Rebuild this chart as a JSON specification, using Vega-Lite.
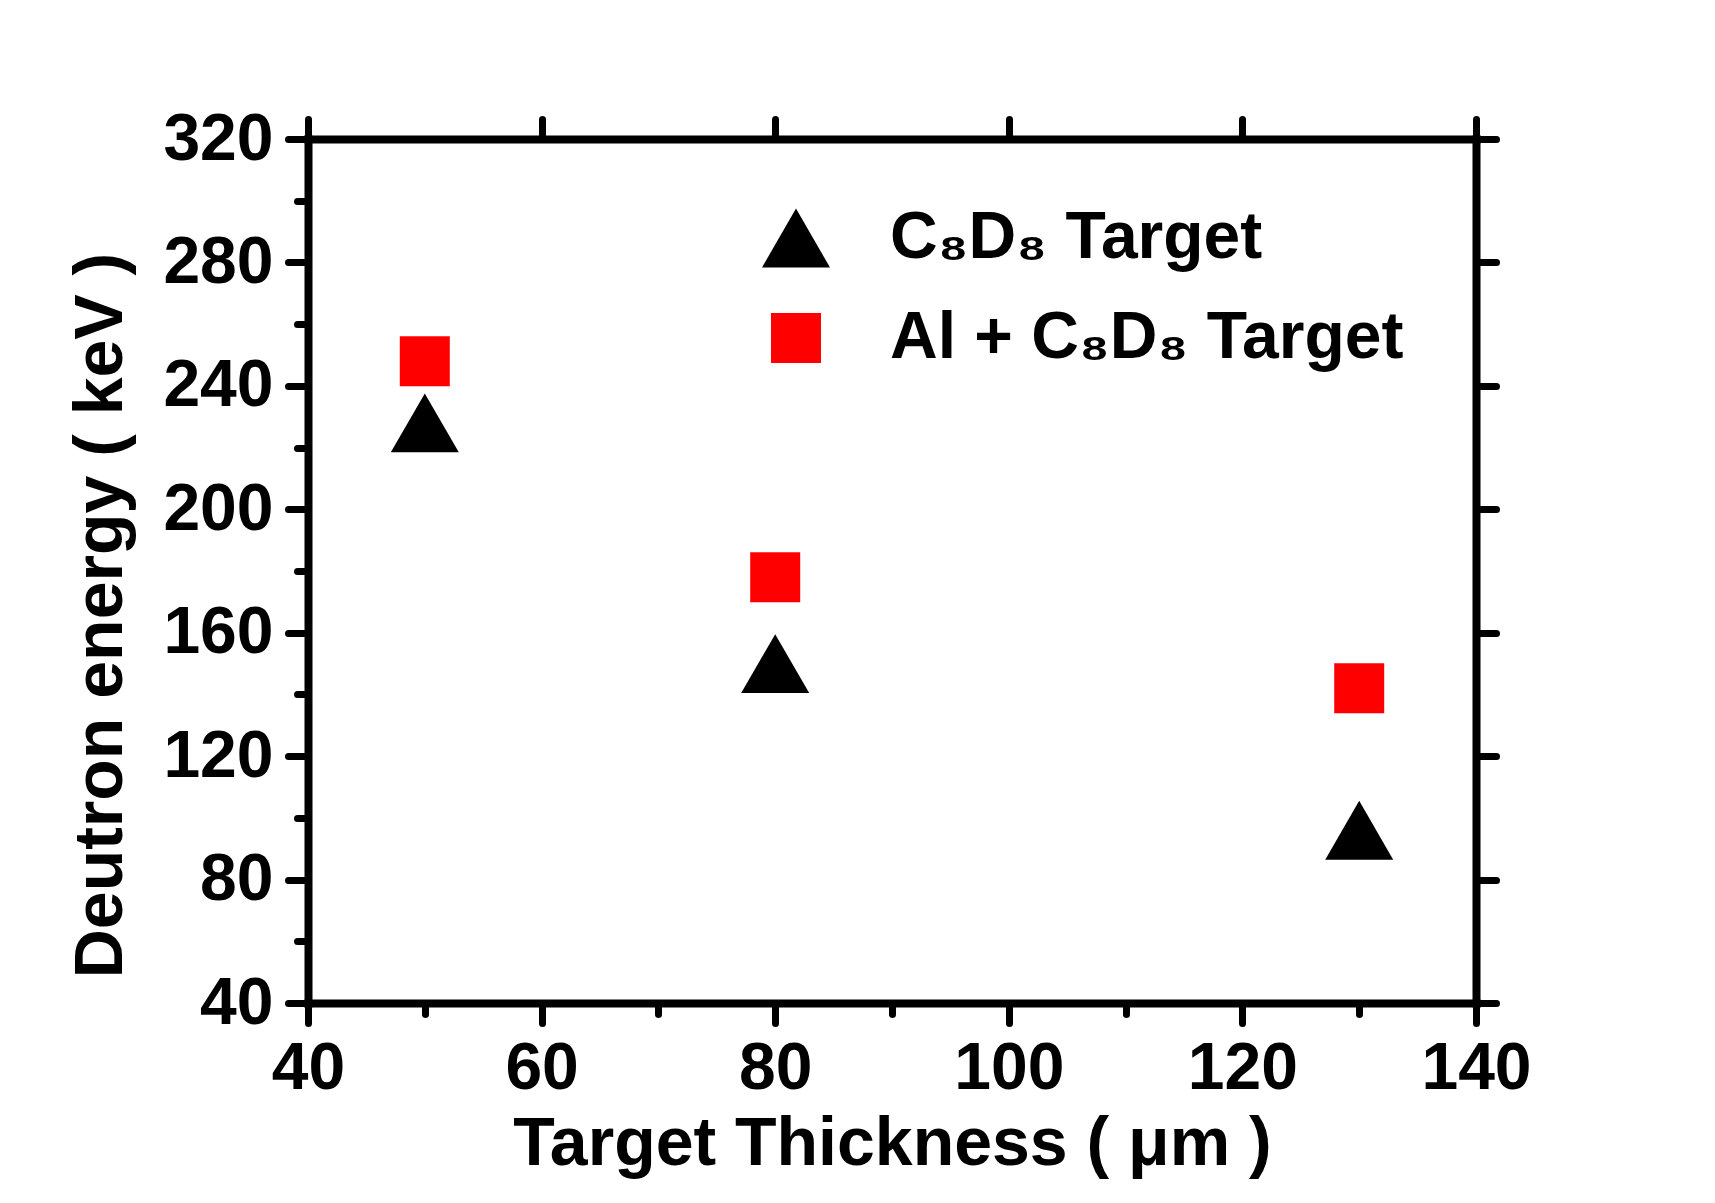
{
  "$schema": "https://vega.github.io/schema/vega-lite/v6.json",
  "width": 1168,
  "height": 864,
  "autosize": {"type": "none"},
  "padding": {"left": 308, "top": 139, "right": 239, "bottom": 200},
  "background": "white",
  "config": {
    "view": {"stroke": null},
    "font": "Liberation Sans",
    "axis": {
      "grid": false,
      "domainColor": "black",
      "tickColor": "black",
      "domainWidth": 8,
      "tickWidth": 7,
      "domainCap": "square",
      "tickCap": "round",
      "labelColor": "black",
      "titleColor": "black",
      "labelFont": "Liberation Sans",
      "titleFont": "Liberation Sans",
      "labelFontWeight": "bold",
      "titleFontWeight": "bold",
      "labelFontSize": 66,
      "titleFontSize": 68,
      "labelFlush": false,
      "labelOverlap": false,
      "labelBound": false
    },
    "legend": {
      "orient": "none",
      "legendX": 454,
      "legendY": 65,
      "padding": 0,
      "labelFont": "Liberation Sans",
      "labelFontWeight": "bold",
      "labelFontSize": 66,
      "labelColor": "black",
      "labelLimit": 2000,
      "labelOffset": 60,
      "rowPadding": 34,
      "symbolSize": 1100,
      "symbolStrokeWidth": 0
    }
  },
  "data": {
    "values": [
      {"thickness": 50, "energy": 228, "target": "C₈D₈ Target"},
      {"thickness": 80, "energy": 150, "target": "C₈D₈ Target"},
      {"thickness": 130, "energy": 96, "target": "C₈D₈ Target"},
      {"thickness": 50, "energy": 248, "target": "Al + C₈D₈ Target"},
      {"thickness": 80, "energy": 178, "target": "Al + C₈D₈ Target"},
      {"thickness": 130, "energy": 142, "target": "Al + C₈D₈ Target"}
    ]
  },
  "layer": [
    {
      "mark": {"type": "point", "filled": true, "opacity": 1, "strokeWidth": 0},
      "encoding": {
        "x": {
          "field": "thickness",
          "type": "quantitative",
          "scale": {"domain": [40, 140], "nice": false, "zero": false},
          "axis": {
            "orient": "bottom",
            "values": [40, 60, 80, 100, 120, 140],
            "tickSize": 20,
            "labelPadding": 13,
            "title": "Target Thickness ( μm )",
            "titlePadding": 9
          }
        },
        "y": {
          "field": "energy",
          "type": "quantitative",
          "scale": {"domain": [40, 320], "nice": false, "zero": false},
          "axis": {
            "orient": "left",
            "values": [40, 80, 120, 160, 200, 240, 280, 320],
            "tickSize": 20,
            "labelPadding": 15,
            "title": "Deutron energy ( keV )",
            "titleY": 476,
            "titlePadding": 27
          }
        },
        "shape": {
          "field": "target",
          "type": "nominal",
          "scale": {"domain": ["C₈D₈ Target", "Al + C₈D₈ Target"], "range": ["triangle-up", "square"]},
          "legend": {"title": null}
        },
        "color": {
          "field": "target",
          "type": "nominal",
          "scale": {"domain": ["C₈D₈ Target", "Al + C₈D₈ Target"], "range": ["#000000", "#ff0000"]},
          "legend": {"title": null}
        },
        "size": {
          "field": "target",
          "type": "nominal",
          "scale": {"domain": ["C₈D₈ Target", "Al + C₈D₈ Target"], "range": [4624, 2500]},
          "legend": null
        }
      }
    },
    {
      "mark": {"type": "point", "opacity": 0},
      "encoding": {
        "x": {
          "field": "thickness",
          "type": "quantitative",
          "axis": {
            "orient": "top",
            "values": [40, 60, 80, 100, 120, 140],
            "tickSize": 20,
            "labels": false,
            "title": null
          }
        },
        "y": {
          "field": "energy",
          "type": "quantitative",
          "axis": {
            "orient": "right",
            "values": [40, 80, 120, 160, 200, 240, 280, 320],
            "tickSize": 20,
            "labels": false,
            "title": null
          }
        }
      }
    },
    {
      "mark": {"type": "point", "opacity": 0},
      "encoding": {
        "x": {
          "field": "thickness",
          "type": "quantitative",
          "axis": {
            "orient": "bottom",
            "values": [50, 70, 90, 110, 130],
            "tickSize": 11,
            "domain": false,
            "labels": false,
            "title": null
          }
        },
        "y": {
          "field": "energy",
          "type": "quantitative",
          "axis": {
            "orient": "left",
            "values": [60, 100, 140, 180, 220, 260, 300],
            "tickSize": 11,
            "domain": false,
            "labels": false,
            "title": null
          }
        }
      }
    }
  ],
  "resolve": {"axis": {"x": "independent", "y": "independent"}}
}
